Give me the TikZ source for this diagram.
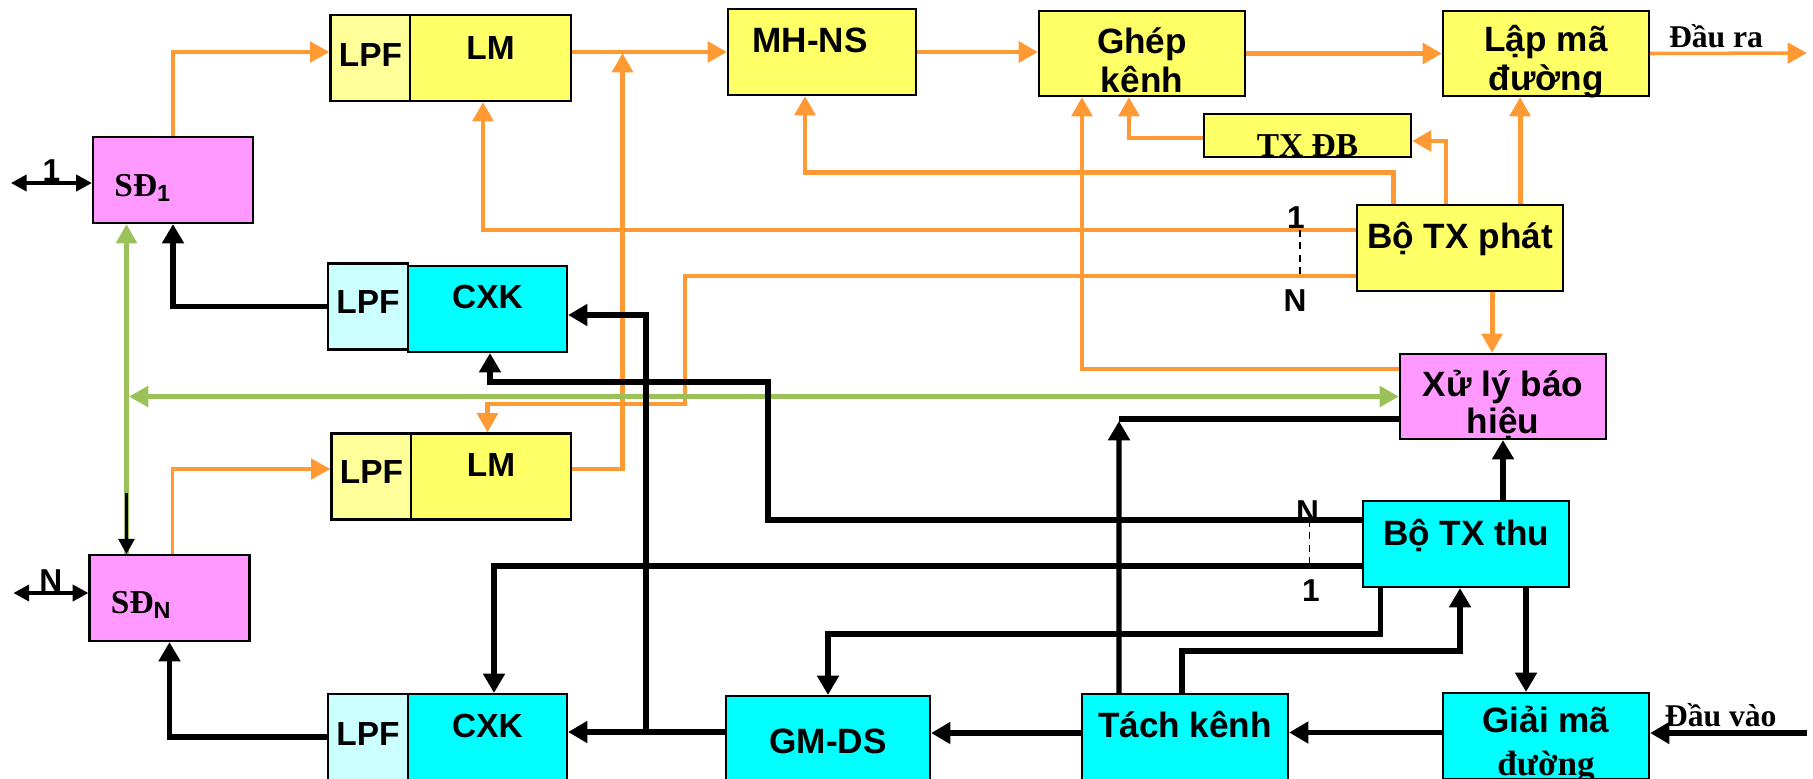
\documentclass[tikz,border=0pt]{standalone}
\usepackage{fontspec}
\setmainfont{Liberation Sans}
\setsansfont{Liberation Sans}
\newfontfamily\tnr{Liberation Serif}
\usepackage{xcolor}
\definecolor{boxyellow}{HTML}{FFFF66}
\definecolor{lpfyellow}{HTML}{FFFF99}
\definecolor{boxcyan}{HTML}{00FFFF}
\definecolor{lpfcyan}{HTML}{CCFFFF}
\definecolor{boxpink}{HTML}{FF99FF}
\definecolor{sigorange}{HTML}{FF9933}
\definecolor{siggreen}{HTML}{9BC25A}
\usetikzlibrary{arrows.meta,positioning,calc}

\begin{document}
\begin{tikzpicture}[
  x=0.01cm, y=-0.01cm,
  unit/.style={draw=black, line width=0.6pt, inner xsep=1pt, inner ysep=0pt,
               minimum height=0.86cm, align=center,
               font=\fontsize{10}{11}\selectfont\bfseries,
               text height=7pt, text depth=7pt},
  tdp/.style={text depth=#1},
  twoline/.style={text height=#1, text depth=0pt},
  yel/.style={unit, fill=boxyellow},
  cyn/.style={unit, fill=boxcyan},
  pnk/.style={unit, fill=boxpink},
  midtxt/.style={font=\fontsize{9.5}{11}\selectfont\bfseries},
  lpfy/.style={unit, midtxt, fill=lpfyellow, minimum width=0.8cm},
  lpfc/.style={unit, midtxt, fill=lpfcyan, minimum width=0.8cm},
  sd/.style={unit, fill=boxpink, minimum width=1.6cm, text width=1.17cm,
             inner xsep=0.215cm, align=left,
             font=\fontsize{9.5}{11}\selectfont\tnr\bfseries,
             text height=9.1pt, text depth=0pt},
  ora/.style={draw=sigorange, line width=1.4pt,
              -{Triangle[length=5.5pt,width=5.8pt]}},
  orathin/.style={ora, line width=1pt},
  wire/.style={draw=black, line width=1.55pt,
               -{Triangle[length=5.5pt,width=6pt]}},
  fine/.style={draw=black, line width=0.8pt,
               -{Triangle[length=4.3pt,width=4.6pt]}},
  dbl/.style={draw=black, line width=1pt,
              {Triangle[length=4.5pt,width=4.6pt]}-{Triangle[length=4.5pt,width=4.6pt]}},
  grn/.style={draw=siggreen, line width=1.3pt},
  gap/.style={draw=black, dashed, line width=0.4pt, dash pattern=on 2pt off 1.5pt},
  lbl/.style={font=\fontsize{9}{10}\selectfont\bfseries, inner sep=0pt},
  io/.style={font=\fontsize{9}{10}\selectfont\tnr\bfseries, inner sep=1pt}
]
\useasboundingbox (0,0) rectangle (1813,778);
\clip (0,0) rectangle (1813,778);

%% transmit side
\node[lpfy, tdp=2.45pt] (lpfA) at (370.5,58) {LPF};
\node[yel, midtxt, minimum width=1.61cm, tdp=6.43pt] (lmA) at (490.5,58) {LM};
\node[yel, minimum width=1.88cm] (mhns) at (822,52) {MH-NS\hspace{0.24cm}};
\node[yel, minimum width=2.06cm, minimum height=0.85cm, twoline=21.9pt] (ghep) at (1142,53.5) {Ghép\\kênh};
\node[yel, minimum width=2.06cm, minimum height=0.85cm, twoline=20.8pt] (lapma) at (1546,53.5) {Lập mã\\đường};
\node[yel, minimum width=2.07cm, minimum height=0.43cm,
      font=\fontsize{9.5}{11}\selectfont\tnr\bfseries,
      text height=12pt, text depth=0pt] (txdb) at (1307.5,135.5) {TX ĐB};
\node[yel, minimum width=2.06cm] (txphat) at (1460,248) {Bộ TX phát};
\node[lpfy, tdp=3.13pt] (lpfC) at (371.5,476.5) {LPF};
\node[yel, midtxt, minimum width=1.6cm] (lmB) at (491,476.5) {LM};

%% subscriber units
\node[sd] (sd1) at (173,180) {SĐ\textsubscript{\sffamily 1}};
\node[sd, text height=8.7pt] (sdN) at (169.5,598) {SĐ\textsubscript{\sffamily N}};

%% signalling
\node[pnk, minimum width=2.06cm, minimum height=0.85cm, twoline=20.8pt,
      font=\fontsize{10}{10.4}\selectfont\bfseries] (xuly) at (1503,396.5) {Xử lý báo\\hiệu};

%% receive side
\node[lpfc, tdp=3.3pt] (lpfB) at (368,306.5) {LPF};
\node[cyn, midtxt, minimum width=1.59cm, tdp=7.57pt] (cxkA) at (487.5,309) {CXK};
\node[cyn, minimum width=2.06cm, tdp=6.43pt] (txthu) at (1466,544) {Bộ TX thu};
\node[lpfc, tdp=2.45pt] (lpfD) at (368,737) {LPF};
\node[cyn, midtxt, minimum width=1.59cm] (cxkB) at (487.5,737) {CXK};
\node[cyn, minimum width=2.04cm, text height=8pt, text depth=0pt] (gmds) at (828,739) {GM-DS};
\node[cyn, minimum width=2.06cm] (tach) at (1185,737) {Tách kênh};
\node[cyn, minimum width=2.06cm, twoline=22.2pt] (giaima) at (1546,736) {Giải mã\\[1pt]{\tnr đường}};

%% junctions
\coordinate (jlm) at (622.5,53);
\coordinate (kN) at (685,404);
\coordinate (kR) at (768,382);
\coordinate (jgm) at (646,732);
\coordinate (jxl) at (1119,421);
\coordinate (gsplit) at (126.5,493);
\coordinate (out) at (1807,53);
\coordinate (in) at (1807,733);

%% line ends 1 .. N
\draw[dbl] ([yshift=-0.03cm]sd1.west) -- ++(-81,0) node[lbl, midway, above] (e1) {1};
\draw[dbl] ([yshift=0.05cm]sdN.west) -- ++(-75,0) node[lbl, midway, above] (eN) {N};

%% orange: transmit paths
\draw[orathin] (sd1.north) |- ([yshift=0.06cm]lpfA.west);
\draw[orathin] ([xshift=0.03cm]sdN.north) |- ([yshift=0.075cm]lpfC.west);
\draw[ora] (lmA.east |- mhns.west) -- (mhns.west);
\draw[ora] ([yshift=0.075cm]lmB.east) -| (jlm);
\draw[ora] (mhns.east) -- (mhns.east -| ghep.west);
\draw[ora] (ghep.east) -- (lapma.west);
\draw[orathin] (lapma.east) -- (out) node[io, pos=0.42, above] (outlbl) {Đầu ra};

%% orange: from Bo TX phat
\draw[ora] ([xshift=-0.665cm]txphat.north) -- ++(0,-31) -| ([xshift=-0.17cm]mhns.south);
\draw[ora] ([xshift=-0.14cm]txphat.north) |- ([yshift=-0.055cm]txdb.east);
\draw[ora] ([xshift=0.6cm]txphat.north) -- ([xshift=0.6cm]txphat.north |- lapma.south);
\draw[ora] ([xshift=0.32cm]txphat.south) -- ([xshift=0.32cm]txphat.south |- xuly.north);
\draw[ora] ([yshift=0.18cm]txphat.west) -| ([xshift=-0.075cm]lmA.south);
\draw[ora] ([yshift=-0.28cm]txphat.west) -| (kN) -| ([xshift=-0.035cm]lmB.north);
\draw[ora] ([yshift=-0.025cm]txdb.west) -| ([xshift=-0.13cm]ghep.south);
\draw[ora] ([yshift=0.275cm]xuly.west) -| ([xshift=-0.6cm]ghep.south);
\node[lbl] (p1) at (1296,218) {1};
\node[lbl] (pN) at (1295,301) {N};
\draw[gap] ([xshift=-0.56cm,yshift=0.18cm]txphat.west) -- ([xshift=-0.56cm,yshift=-0.28cm]txphat.west);

%% green: signalling bus
\draw[grn, -{Triangle[length=5.5pt,width=5.8pt]}] ([xshift=-0.43cm]sdN.north) -- ([xshift=-0.465cm]sd1.south);
\draw[grn, {Triangle[length=5.5pt,width=5.8pt]}-{Triangle[length=5.5pt,width=5.8pt]}]
  ([xshift=-0.44cm]sd1.south |- xuly.west) -- (xuly.west);
\draw[fine] (gsplit) -- ([xshift=-0.43cm]sdN.north);

%% black: receive paths
\draw[wire] ([yshift=0.035cm]giaima.west) -- ([yshift=0.035cm]giaima.west -| tach.east);
\draw[wire] (in) -- (in -| giaima.east) node[io, pos=0.55, above] (inlbl) {Đầu vào};
\draw[wire] ([yshift=0.04cm]tach.west) -- ([yshift=0.04cm]tach.west -| gmds.east);
\draw[wire] ([yshift=0.07cm]gmds.west) -- ([yshift=0.07cm]gmds.west -| cxkB.east);
\draw[wire] (jgm) |- ([yshift=-0.06cm]cxkA.east);
\draw[wire] (lpfB.west) -| (sd1.south);
\draw[wire] (lpfD.west) -| (sdN.south);
\draw[wire] ([yshift=0.24cm]txthu.west) -| (kR) -| ([xshift=0.025cm]cxkA.south);
\draw[wire] ([yshift=-0.22cm]txthu.west) -| ([xshift=0.065cm]cxkB.north);
\node[lbl] (qN) at (1307.5,512) {N};
\node[lbl] (q1) at (1311,591) {1};
\draw[gap] ([xshift=-0.525cm,yshift=0.24cm]txthu.west) -- ([xshift=-0.525cm,yshift=-0.22cm]txthu.west);
\draw[wire] (xuly.south |- txthu.north) -- (xuly.south);
\draw[wire] ([xshift=-0.855cm]txthu.south) -- ++(0,46) -| (gmds.north);
\draw[wire] ([xshift=-0.03cm]tach.north) -- ++(0,-42) -| ([xshift=-0.06cm]txthu.south);
\draw[wire] ([xshift=0.6cm]txthu.south) -- ([xshift=0.6cm]txthu.south |- giaima.north);
\draw[wire] ([xshift=-0.66cm]tach.north) -- (jxl);
\draw[wire, -] ([yshift=-0.225cm]xuly.west) -- ([yshift=-0.225cm]xuly.west -| jxl);

\end{tikzpicture}
\end{document}
